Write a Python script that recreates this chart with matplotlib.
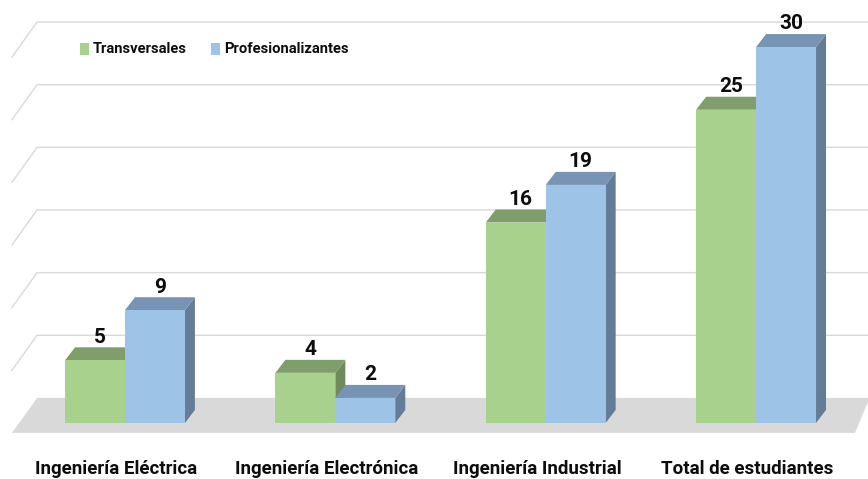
import matplotlib.pyplot as plt
from matplotlib.patches import Polygon

categories = ["Ingeniería Eléctrica", "Ingeniería Electrónica", "Ingeniería Industrial", "Total de estudiantes"]
transversales = [5, 4, 16, 25]
profesionalizantes = [9, 2, 19, 30]
series_names = ["Transversales", "Profesionalizantes"]

plt.rcParams['font.family'] = ["Roboto", "DejaVu Sans"]


def main():
    fig = plt.figure(figsize=(8.68, 4.79), dpi=100)
    ax = fig.add_axes([0, 0, 1, 1])
    ax.set_xlim(-0.594, 3.532)
    ax.set_ylim(-4.47, 33.76)
    ax.axis('off')

    w = 0.285       # bar width
    dx, dy = 0.0475, 1.04   # depth of bar tops
    back = 2.0      # back wall offset
    sx0, sx1, sdy = -0.418, -0.537, 2.79

    # floor
    ax.add_patch(Polygon([(sx0, back), (3.54, back), (3.47, back - sdy), (sx1, back - sdy)],
                         closed=True, facecolor='#D9D9D9', edgecolor='none', zorder=1))
    # back wall gridlines
    for v in range(5, 31, 5):
        ax.plot([sx1, sx0, 3.54], [v + back - sdy, v + back, v + back],
                color='#D9D9D9', lw=1.0, zorder=0)

    colors = [('#A9D18E', '#809E6C', '#6F8A5C'), ('#9DC3E6', '#7794B4', '#647C98')]
    for s, vals in enumerate([transversales, profesionalizantes]):
        front, top, side = colors[s]
        for i, v in enumerate(vals):
            x0 = i - w + s * w
            x1 = x0 + w
            ax.add_patch(Polygon([(x1, 0), (x1 + dx, dy), (x1 + dx, v + dy), (x1, v)],
                                 facecolor=side, edgecolor='none', zorder=2 + i * 2))
            ax.add_patch(Polygon([(x0, v), (x1, v), (x1 + dx, v + dy), (x0 + dx, v + dy)],
                                 facecolor=top, edgecolor='none', zorder=2 + i * 2 + s))
            ax.add_patch(Polygon([(x0, 0), (x1, 0), (x1, v), (x0, v)],
                                 facecolor=front, edgecolor='none', zorder=2 + i * 2 + s))
            ax.text((x0 + x1) / 2 + dx / 2, v + dy + 0.05, str(v), ha='center', va='bottom',
                    fontsize=15, fontweight='bold', color='#0D0D0D', zorder=10)

    for i, c in enumerate(categories):
        ax.text(i - 0.04, -3.65, c, ha='center', va='center', fontsize=13.5,
                fontweight='bold', color='#0D0D0D')

    # legend
    lx = [-0.214, 0.409]
    for s, name in enumerate(series_names):
        ax.add_patch(Polygon([(lx[s], 29.35), (lx[s] + 0.043, 29.35), (lx[s] + 0.043, 30.3), (lx[s], 30.3)],
                             facecolor=colors[s][0], edgecolor='none', zorder=3))
        ax.text(lx[s] + 0.062, 29.85, name, ha='left', va='center', fontsize=10.6,
                fontweight='bold', color='#0D0D0D')

    fig.savefig('out.png', dpi=100)


if __name__ == "__main__":
    main()
